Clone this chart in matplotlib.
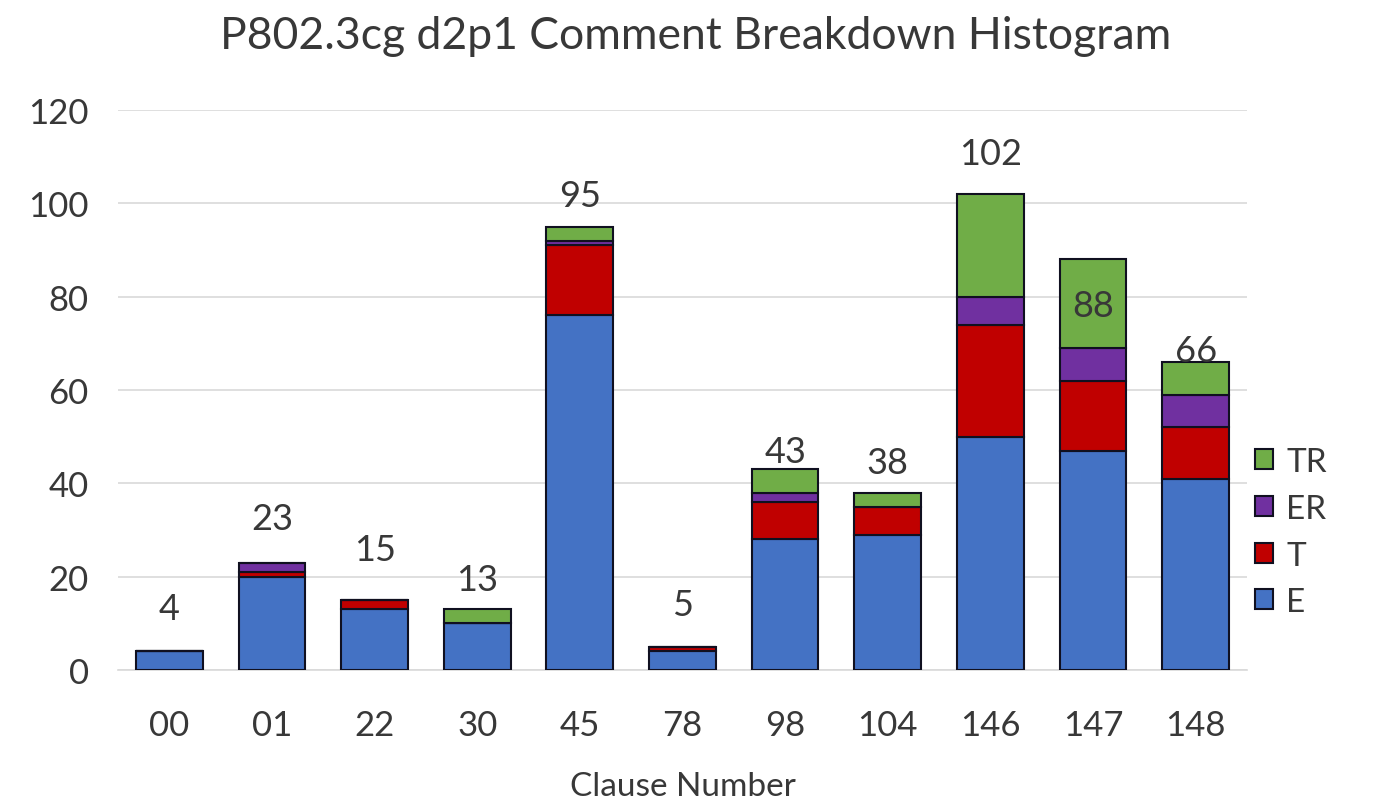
import matplotlib as mpl
mpl.use('agg')
import matplotlib.pyplot as plt
import numpy as np

plt.rcParams['font.family'] = ['Lato', 'DejaVu Sans']

clauses = ["00", "01", "22", "30", "45", "78", "98", "104", "146", "147", "148"]
E  = [4, 20, 13, 10, 76, 4, 28, 29, 50, 47, 41]
T  = [0, 1, 2, 0, 15, 1, 8, 6, 24, 15, 11]
ER = [0, 2, 0, 0, 1, 0, 2, 0, 6, 7, 7]
TR = [0, 0, 0, 3, 3, 0, 5, 3, 22, 19, 7]
totals = [4, 23, 15, 13, 95, 5, 43, 38, 102, 88, 66]
# where the total labels sit (y, data units), placed by hand in the original
label_y = [13.1, 32.4, 25.9, 19.5, 101.6, 14.1, 46.9, 44.4, 110.6, 78.2, 68.4]

series = [("E", E, "#4472C4"), ("T", T, "#C00000"),
          ("ER", ER, "#7030A0"), ("TR", TR, "#70AD47")]
txt = "#383838"

fig = plt.figure(figsize=(13.91, 8.04), dpi=100)
ax = fig.add_axes([0.0848, 0.1654, 0.8117, 0.6966])

x = np.arange(len(clauses))
bottom = np.zeros(len(clauses))
handles = []
for name, vals, col in series:
    vals = np.array(vals, dtype=float)
    b = ax.bar(x, vals, 0.65, bottom=bottom, color=col, edgecolor="#101020",
               linewidth=1.5, label=name, zorder=3)
    handles.append(b)
    bottom += vals

for xi, tot, ly in zip(x, totals, label_y):
    ax.text(xi, ly, str(tot), ha="center", va="center", fontsize=26,
            color=txt, zorder=4)

ax.set_xlim(-0.5, len(clauses) - 0.5)
ax.set_ylim(0, 120)
ax.set_yticks(np.arange(0, 121, 20))
ax.set_xticks(x)
ax.set_xticklabels(clauses)
ax.tick_params(length=0, labelsize=25, colors=txt)
ax.tick_params(axis="x", pad=28)
ax.tick_params(axis="y", pad=21)
ax.yaxis.grid(True, color="#D9D9D9", linewidth=1.2, zorder=0)
ax.set_axisbelow(True)
for s in ["top", "right", "left"]:
    ax.spines[s].set_visible(False)
ax.spines["bottom"].set_color("#D9D9D9")
ax.spines["bottom"].set_linewidth(1.2)

ax.set_xlabel("Clause Number", fontsize=24, color=txt, labelpad=22)
fig.text(0.5, 0.955, "P802.3cg d2p1 Comment Breakdown Histogram",
         ha="center", va="center", fontsize=32, color=txt)

leg = ax.legend(handles[::-1], [h.get_label() for h in handles[::-1]],
                loc="center left", bbox_to_anchor=(0.995, 0.246), frameon=False,
                fontsize=24, handlelength=0.55, handleheight=0.55,
                handletextpad=0.4, labelspacing=0.5, borderaxespad=0.0,
                labelcolor=txt)

plt.savefig("out.png")
